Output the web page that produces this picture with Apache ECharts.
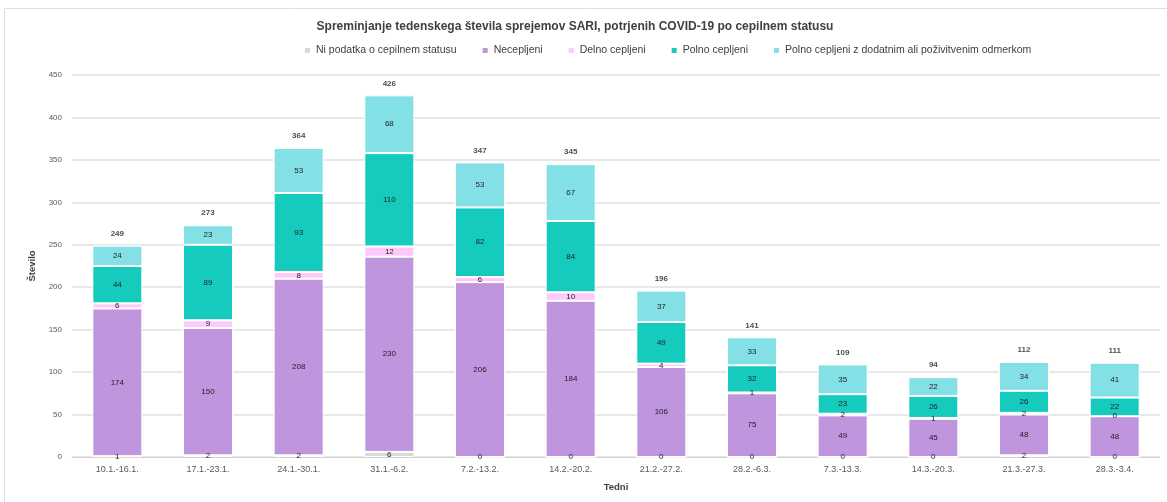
<!DOCTYPE html>
<html><head><meta charset="utf-8">
<script src="https://cdn.jsdelivr.net/npm/echarts@6/dist/echarts.min.js"></script>
<style>html,body{margin:0;padding:0;background:#fff}#c{width:1167px;height:502px}</style>
</head><body><div id="c"></div>
<script>
const categories = ['10.1.-16.1.','17.1.-23.1.','24.1.-30.1.','31.1.-6.2.','7.2.-13.2.','14.2.-20.2.','21.2.-27.2.','28.2.-6.3.','7.3.-13.3.','14.3.-20.3.','21.3.-27.3.','28.3.-3.4.'];
const niPodatka = [1,2,2,6,0,0,0,0,0,0,2,0];
const necepljeni = [174,150,208,230,206,184,106,75,49,45,48,48];
const delno = [6,9,8,12,6,10,4,1,2,1,2,0];
const polno = [44,89,93,110,82,84,49,32,23,26,26,22];
const dodatni = [24,23,53,68,53,67,37,33,35,22,34,41];
const totals = [249,273,364,426,347,345,196,141,109,94,112,111];
const yTicks = {min:0, max:450, interval:50};

const FONT = 'Liberation Sans';
const chart = echarts.init(document.getElementById('c'));
function seg(name, data, color) {
  return {
    name, type:'bar', stack:'s', data, barWidth:50,
    itemStyle:{color, borderColor:'#fff', borderWidth:1},
    label:{show:true, position:'inside', fontSize:8, color:'#222', fontFamily:FONT},
    emphasis:{disabled:true}
  };
}
chart.setOption({
  animation:false,
  textStyle:{fontFamily:FONT},
  title:{text:'Spreminjanje tedenskega števila sprejemov SARI, potrjenih COVID-19 po cepilnem statusu',
    left:570, textAlign:'center', top:16,
    textStyle:{fontSize:12, fontWeight:'bold', color:'#404040', fontFamily:FONT}},
  legend:{top:40, left:298, itemWidth:7, itemHeight:7, itemGap:24, icon:'rect',
    textStyle:{fontSize:10.5, color:'#404040', fontFamily:FONT},
    data:['Ni podatka o cepilnem statusu','Necepljeni','Delno cepljeni','Polno cepljeni','Polno cepljeni z dodatnim ali poživitvenim odmerkom']},
  grid:{left:72, right:7, top:75, bottom:45},
  xAxis:{type:'category', data:categories, name:'Tedni', nameLocation:'middle', nameGap:25,
    nameTextStyle:{fontSize:9.5, fontWeight:'bold', color:'#404040'},
    axisLine:{lineStyle:{color:'#d0d0d0'}}, axisTick:{show:false},
    axisLabel:{fontSize:9, color:'#595959', margin:8}},
  yAxis:{type:'value', min:yTicks.min, max:yTicks.max, interval:yTicks.interval,
    name:'Število', nameLocation:'middle', nameGap:18,
    nameTextStyle:{fontSize:9.5, fontWeight:'bold', color:'#404040'},
    axisLine:{show:false}, axisTick:{show:false},
    axisLabel:{fontSize:8, color:'#595959', margin:10},
    splitLine:{lineStyle:{color:'#e0e0e0', width:1.5}}},
  graphic:[{type:'rect', shape:{x:4.5, y:8.5, width:1200, height:520}, style:{fill:'none', stroke:'#e0e0e0', lineWidth:1}, silent:true}],
  series:[
    seg('Ni podatka o cepilnem statusu', niPodatka, '#d9d9d9'),
    seg('Necepljeni', necepljeni, '#bf95de'),
    seg('Delno cepljeni', delno, '#ffc9fb'),
    seg('Polno cepljeni', polno, '#15cbbe'),
    seg('Polno cepljeni z dodatnim ali poživitvenim odmerkom', dodatni, '#83e0e6'),
    {name:'total', type:'scatter', data:totals, symbolSize:0, silent:true,
      label:{show:true, position:'top', distance:8, fontSize:8, fontWeight:'bold', color:'#222', fontFamily:FONT,
        formatter:p=>p.value}}
  ]
});
</script></body></html>
